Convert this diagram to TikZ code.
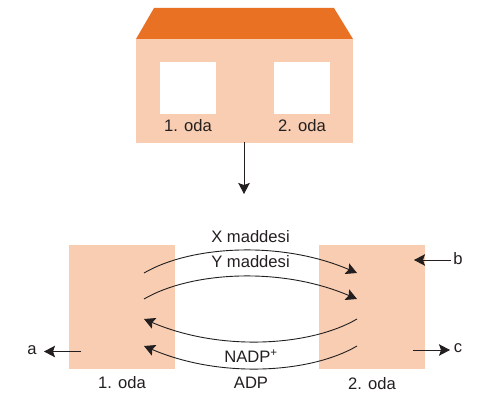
\documentclass[tikz,border=0pt]{standalone}
\usepackage{fontspec}
\setmainfont{Liberation Sans}
\usetikzlibrary{arrows.meta}
\definecolor{roomfill}{HTML}{F8CDB1}
\definecolor{roofcol}{HTML}{E87124}
\definecolor{inkcol}{HTML}{231F20}
\tikzset{
  x=1pt,y=-1pt,
  room/.style={fill=roomfill,draw=none,inner sep=0pt,outer sep=0pt,minimum width=106pt,minimum height=124pt},
  win/.style={fill=white,draw=none,inner sep=0pt,outer sep=0pt,minimum width=56pt,minimum height=52pt},
  lab/.style={font=\fontsize{16.6}{18}\selectfont,text=inkcol,inner sep=0pt},
  conn/.style={draw=inkcol,line width=0.9pt,-{Stealth[length=11pt,width=11.5pt,inset=2pt]}},
}
\begin{document}
\begin{tikzpicture}
\useasboundingbox (0,0) rectangle (478,404);
% house
\fill[roofcol] (136,39) -- (154,8) -- (334,8) -- (353,39) -- cycle;
\node[fill=roomfill,inner sep=0pt,outer sep=0pt,minimum width=217pt,minimum height=104pt] (body) at (244.5,91) {};
\node[win] (w1) at (188,88) {};
\node[win] (w2) at (302,88) {};
\node[lab] (l1) at (188,125.5) {1. oda};
\node[lab] (l2) at (302,125.5) {2. oda};
\coordinate (dtop) at (244,142);
\coordinate (dbot) at (244,194);
\draw[conn] (dtop) -- (dbot);
% rooms
\node[room] (r1) at (122,307) {};
\node[room] (r2) at (372,307) {};
\node[lab] (t1) at (122,383) {1. oda};
\node[lab] (t2) at (372,383.5) {2. oda};
% curves
\coordinate (xs) at (144,273); \coordinate (xe) at (357,273);
\coordinate (ys) at (144,299); \coordinate (ye) at (357,299);
\coordinate (ns) at (357,319); \coordinate (ne) at (144,319);
\coordinate (as) at (357,346); \coordinate (ae) at (144,346);
\draw[conn] (xs) .. controls (190,246) and (280,240) .. (xe);
\draw[conn] (ys) .. controls (190,272) and (280,266) .. (ye);
\draw[conn] (ns) .. controls (311,346) and (221,352) .. (ne);
\draw[conn] (as) .. controls (311,373) and (221,379) .. (ae);
\node[lab] (xl) at (250.5,236.5) {X maddesi};
\node[lab] (yl) at (250.5,262) {Y maddesi};
\node[lab] (nl) at (251,356) {NADP\textsuperscript{+}};
\node[lab] (al) at (251,382.5) {ADP};
% side arrows
\node[lab] (a) at (32,350) {a};
\node[lab] (b) at (458,259) {b};
\node[lab] (c) at (458,348) {c};
\coordinate (a1) at (81,351.5); \coordinate (a2) at (44,351.5);
\coordinate (b1) at (451,260); \coordinate (b2) at (414,260);
\coordinate (c1) at (413,350); \coordinate (c2) at (450,350);
\draw[conn] (a1) -- (a2);
\draw[conn] (b1) -- (b2);
\draw[conn] (c1) -- (c2);
\end{tikzpicture}
\end{document}
